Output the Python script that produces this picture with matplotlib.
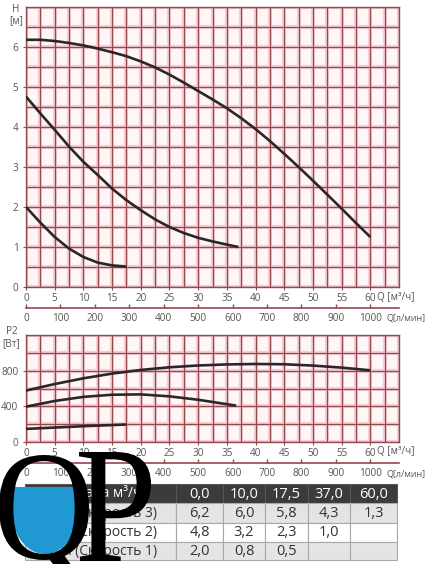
import numpy as np
import matplotlib
matplotlib.use('Agg')
import matplotlib.pyplot as plt
from matplotlib.patches import Rectangle, Ellipse, PathPatch
from matplotlib.textpath import TextPath
from matplotlib.font_manager import FontProperties
from matplotlib.transforms import Affine2D

plt.rcParams['font.family'] = ['Open Sans', 'DejaVu Sans']

# ---- data ----
q3 = [0, 2.5, 5, 7.5, 10, 12.5, 15, 17.5, 20, 22.5, 25, 27.5, 30, 32.5, 35,
      37.5, 40, 42.5, 45, 47.5, 50, 52.5, 55, 57.5, 60]
h3 = [6.18, 6.18, 6.15, 6.1, 6.04, 5.96, 5.87, 5.77, 5.64, 5.49, 5.31, 5.11,
      4.9, 4.69, 4.47, 4.22, 3.95, 3.65, 3.33, 3.0, 2.66, 2.31, 1.96, 1.6, 1.25]
q2 = [0, 2.5, 5, 7.5, 10, 12.5, 15, 17.5, 20, 22.5, 25, 27.5, 30, 32.5, 35, 37]
h2 = [4.76, 4.34, 3.93, 3.51, 3.13, 2.8, 2.46, 2.17, 1.92, 1.69, 1.5, 1.35,
      1.23, 1.14, 1.06, 1.0]
q1 = [0, 2.5, 5, 7.5, 10, 12.5, 15, 17.5]
h1 = [2.0, 1.61, 1.25, 0.96, 0.75, 0.61, 0.54, 0.51]

pq3 = [0, 5, 10, 15, 20, 25, 30, 35, 40, 45, 50, 55, 60]
p3 = [577, 650, 714, 767, 808, 838, 858, 870, 875, 872, 857, 834, 804]
pq2 = [0, 5, 10, 15, 20, 25, 30, 35, 36.6]
p2 = [396, 460, 506, 530, 534, 512, 474, 424, 408]
pq1 = [0, 5, 10, 15, 17.5]
p1 = [147, 162, 177, 190, 196]

table_header = ['Подача м³/ч', '0,0', '10,0', '17,5', '37,0', '60,0']
table_rows = [
    ['H, м (Скорость 3)', '6,2', '6,0', '5,8', '4,3', '1,3'],
    ['H, м (Скорость 2)', '4,8', '3,2', '2,3', '1,0', ''],
    ['H, м (Скорость 1)', '2,0', '0,8', '0,5', '', ''],
]

W, H = 436, 564
grid_c = '#92484d'
halo_c = '#f5d0d3'
curve_c = '#2b2627'
lab_c = '#555555'


def q2l(q):
    return q * 1000 / 60


def l2q(l):
    return l * 60 / 1000


def frac(x0, y0, x1, y1):
    return [x0 / W, 1 - y1 / H, (x1 - x0) / W, (y1 - y0) / H]


fig = plt.figure(figsize=(W / 100, H / 100), dpi=100)


def style_axes(ax, ymax, yminor, ylabels):
    ax.set_facecolor('#fff7f7')
    ax.set_xlim(0, 65)
    ax.set_ylim(0, ymax)
    xg = np.arange(0, 65.01, 2.5)
    yg = np.arange(0, ymax + 0.01, yminor)
    for x in xg:
        ax.axvline(x, color=halo_c, lw=3, zorder=0.3)
    for y in yg:
        ax.axhline(y, color=halo_c, lw=3, zorder=0.3)
    ax.set_xticks(np.arange(0, 60.01, 5))
    ax.set_xticks(xg, minor=True)
    ax.set_yticks(ylabels)
    ax.set_yticks(yg, minor=True)
    ax.set_axisbelow(True)
    ax.grid(which='both', color=grid_c, lw=0.9)
    for s in ax.spines.values():
        s.set_color(grid_c)
        s.set_linewidth(1.0)
    ax.tick_params(which='major', length=2.5, color=grid_c, labelsize=7.2,
                   labelcolor=lab_c, pad=1.5)
    ax.tick_params(axis='y', which='major', pad=3)
    ax.tick_params(which='minor', length=0)


def add_lmin_axis(ax, loc):
    sec = ax.secondary_xaxis(loc, functions=(q2l, l2q))
    sec.set_xticks(np.arange(0, 1001, 100))
    sec.tick_params(direction='in', length=3, color=grid_c, width=1,
                    labelsize=7.2, labelcolor=lab_c, pad=3.5)
    for s in sec.spines.values():
        s.set_color(grid_c)
        s.set_linewidth(1.2)
    return sec


def curves(ax, pairs):
    for xs, ys in pairs:
        ax.plot(xs, ys, color=curve_c, lw=1.9, zorder=3,
                solid_capstyle='butt', solid_joinstyle='round')


# ---- head chart ----
ax1 = fig.add_axes(frac(26, 7, 399, 287))
style_axes(ax1, 7, 0.5, np.arange(0, 7, 1))
curves(ax1, [(q3, h3), (q2, h2), (q1, h1)])
add_lmin_axis(ax1, -21 / 280)

# ---- power chart ----
ax2 = fig.add_axes(frac(26, 335, 399, 442))
style_axes(ax2, 1200, 200, [0, 400, 800])
curves(ax2, [(pq3, p3), (pq2, p2), (pq1, p1)])
add_lmin_axis(ax2, -21 / 107)

# ---- overlay in pixel coordinates ----
ov = fig.add_axes([0, 0, 1, 1])
ov.set_xlim(0, W)
ov.set_ylim(H, 0)
ov.axis('off')

txt = dict(color=lab_c, fontsize=7.2, va='center')
ov.text(16, 10, 'H', ha='center', **txt)
ov.text(16, 21, '[м]', ha='center', **txt)
ov.text(12, 332, 'P2', ha='center', **txt)
ov.text(11, 344, '[Вт]', ha='center', **txt)
ov.text(377, 297, 'Q [м³/ч]', ha='left', **txt)
ov.text(386, 318, 'Q[л/мин]', ha='left', **dict(txt, fontsize=6.5))
ov.text(377, 452, 'Q [м³/ч]', ha='left', **txt)
ov.text(386, 474, 'Q[л/мин]', ha='left', **dict(txt, fontsize=6.5))

# table
col_x = [25, 176, 223, 265, 308, 350, 397]
row_y = [484, 503, 523, 542, 560]
rows = [table_header] + table_rows
fills = ['#3d3a3a', '#e4e4e4', '#ffffff', '#e4e4e4']
for r, row in enumerate(rows):
    for c, val in enumerate(row):
        x0, x1 = col_x[c], col_x[c + 1]
        y0, y1 = row_y[r], row_y[r + 1]
        ov.add_patch(Rectangle((x0, y0), x1 - x0, y1 - y0, facecolor=fills[r],
                               edgecolor='#a8a8a8' if r else '#5a5656', lw=0.8))
        ov.text((x0 + x1) / 2, (y0 + y1) / 2 + 0.5, val, ha='center', va='center',
                fontsize=10.5 if c else 10,
                color='white' if r == 0 else '#333333')

# logo "QP"
clip = Rectangle((0, 487), 120, 80, transform=ov.transData)
blue = Ellipse((45, 508), 68, 92, facecolor='#1f98d4', edgecolor='none', zorder=5)
ov.add_patch(blue)
blue.set_clip_path(clip)

serif = FontProperties(family='Liberation Serif')


def glyph(ch, x0, y0, x1, y1, ref_ch=None):
    tp = TextPath((0, 0), ch, size=100, prop=serif)
    ext = TextPath((0, 0), ref_ch or ch, size=100, prop=serif).get_extents()
    sx = (x1 - x0) / ext.width
    sy = (y1 - y0) / ext.height
    tr = (Affine2D().translate(-ext.x0, -ext.y1).scale(sx, -sy)
          .translate(x0, y0) + ov.transData)
    ov.add_patch(PathPatch(tp, facecolor='black', edgecolor='none',
                           transform=tr, zorder=6))


glyph('Q', -1, 455, 89, 560, ref_ch='O')
glyph('P', 79, 452, 151, 561)

fig.savefig('out.png', dpi=100)
